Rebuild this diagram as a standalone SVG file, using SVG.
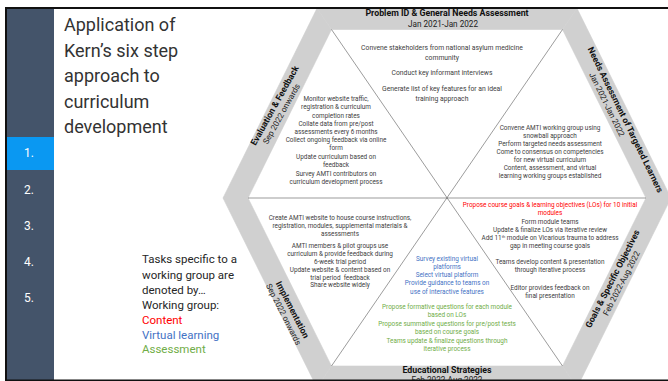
<svg xmlns="http://www.w3.org/2000/svg" width="668" height="381" viewBox="0 0 668 381">
<style>
.band{fill:#D0D0D0;stroke:#D0D0D0;stroke-width:0.6}
.diag{stroke:#595959;stroke-width:0.6;fill:none}
.t{font-family:Roboto,"Liberation Sans",sans-serif;font-size:6.4px;fill:#404040;text-anchor:middle}
.tt{font-size:6.8px}
.lb{font-family:Roboto,"Liberation Sans",sans-serif;font-weight:bold;font-size:8.8px;fill:#111;text-anchor:middle}
.dt{font-family:Roboto,"Liberation Sans",sans-serif;font-size:8.2px;fill:#222;text-anchor:middle}
.side{font-family:Roboto,"Liberation Sans",sans-serif;font-size:12px;fill:#fff}
.title{font-family:Roboto,"Liberation Sans",sans-serif;font-size:18px;fill:#333}
.leg{font-family:Roboto,"Liberation Sans",sans-serif;font-size:11.5px;fill:#262626}
.r{fill:#FF0000}.b{fill:#4472C4}.g{fill:#70AD47}
</style>
<rect width="668" height="381" fill="#fff"/>
<g id="sidebar">
<rect x="7" y="9" width="47" height="371" fill="#44546A"/>
<rect x="7" y="137" width="47" height="33" fill="#0A98F2"/>
<text class="side" x="24" y="157">1.</text>
<text class="side" x="24" y="194">2.</text>
<text class="side" x="24" y="230">3.</text>
<text class="side" x="24" y="266">4.</text>
<text class="side" x="24" y="302">5.</text>
</g>
<g id="title">
<text class="title" x="64" y="31">Application of</text>
<text class="title" x="64" y="56.5">Kern’s six step</text>
<text class="title" x="64" y="82">approach to</text>
<text class="title" x="64" y="107.5">curriculum</text>
<text class="title" x="64" y="133">development</text>
</g>
<g id="legend">
<text class="leg" x="142" y="263">Tasks specific to a</text>
<text class="leg" x="142" y="279">working group are</text>
<text class="leg" x="142" y="294">denoted by…</text>
<text class="leg" x="142" y="309">Working group:</text>
<text class="leg r" x="142" y="324">Content</text>
<text class="leg b" x="142" y="339">Virtual learning</text>
<text class="leg g" x="142" y="353">Assessment</text>
</g>

<g id="step1-problem-id">
<polygon class="band" points="317,8.3 577,8.3 562.5,29.5 331.5,29.5"/>
<text class="lb" x="447" y="15.8">Problem ID &amp; General Needs Assessment</text>
<text class="dt" x="443" y="26.8">Jan 2021-Jan 2022</text>
<text class="t tt" x="442" y="49.5">Convene stakeholders from national asylum medicine</text>
<text class="t tt" x="442" y="59.5">community</text>
<text class="t tt" x="442" y="74.5">Conduct key informant interviews</text>
<text class="t tt" x="442" y="90.5">Generate list of key features for an ideal</text>
<text class="t tt" x="442" y="100.5">training approach</text>
</g>

<g id="step2-targeted-needs">
<polygon class="band" points="577,8.3 671,198 646,198 562.5,29.5"/>
<g transform="translate(621,122) rotate(64)">
<text class="lb" x="0" y="-2">Needs Assessment of Targeted Learners</text>
<text class="dt" x="-22" y="7.8">Jan 2021-Jan 2022</text>
</g>
<text class="t" x="550" y="130.3">Convene AMTI working group using</text>
<text class="t" x="550" y="138.3">snowball approach</text>
<text class="t" x="550" y="146.3">Perform targeted needs assessment</text>
<text class="t" x="550" y="154.3">Come to consensus on competencies</text>
<text class="t" x="550" y="162.3">for new virtual curriculum</text>
<text class="t" x="550" y="170.3">Content, assessment, and virtual</text>
<text class="t" x="550" y="178.3">learning working groups established</text>
</g>

<g id="step3-goals">
<polygon class="band" points="671,198 577,387.7 562.5,366 646,198"/>
<g transform="translate(617,281) rotate(-63)">
<text class="lb" x="0" y="-2">Goals &amp; Specific Objectives</text>
<text class="dt" x="0" y="7.8">Feb 2022-Aug 2022</text>
</g>
<text class="t r" x="550" y="207.3">Propose course goals &amp; learning objectives (LOs) for 10 initial</text>
<text class="t r" x="550" y="215.3">modules</text>
<text class="t" x="550" y="224.3">Form module teams</text>
<text class="t" x="550" y="232.3">Update &amp; finalize LOs via iterative review</text>
<text class="t" x="550" y="240.3">Add 11<tspan font-size="4" baseline-shift="super">th</tspan> module on Vicarious trauma to address</text>
<text class="t" x="550" y="248.3">gap in meeting course goals</text>
<text class="t" x="550" y="264.3">Teams develop content &amp; presentation</text>
<text class="t" x="550" y="272.3">through iterative process</text>
<text class="t" x="550" y="290.3">Editor provides feedback on</text>
<text class="t" x="550" y="298.3">final presentation</text>
</g>

<g id="step4-educational-strategies">
<polygon class="band" points="577,387.7 317,387.7 331.5,366 562.5,366"/>
<text class="lb" x="447" y="372.5">Educational Strategies</text>
<text class="dt" x="447" y="382.5">Feb 2022-Aug 2022</text>
<text class="t b" x="447" y="261.3">Survey existing virtual</text>
<text class="t b" x="447" y="269.3">platforms</text>
<text class="t b" x="447" y="277.3">Select virtual platform</text>
<text class="t b" x="447" y="285.3">Provide guidance to teams on</text>
<text class="t b" x="447" y="293.8">use of interactive features</text>
<text class="t g" x="447" y="309.3">Propose formative questions for each module</text>
<text class="t g" x="447" y="317.3">based on LOs</text>
<text class="t g" x="447" y="326.3">Propose summative questions for pre/post tests</text>
<text class="t g" x="447" y="334.3">based on course goals</text>
<text class="t g" x="447" y="342.8">Teams update &amp; finalize questions through</text>
<text class="t g" x="447" y="351.3">iterative process</text>
</g>

<g id="step5-implementation">
<polygon class="band" points="317,387.7 223,198 248,198 331.5,366"/>
<g transform="translate(288,312) rotate(63)">
<text class="lb" x="0" y="-2">Implementation</text>
<text class="dt" x="0" y="7.8">Sep 2022 onwards</text>
</g>
<text class="t" x="340" y="220.3">Create AMTI website to house course instructions,</text>
<text class="t" x="340" y="228.3">registration, modules, supplemental materials &amp;</text>
<text class="t" x="340" y="236.3">assessments</text>
<text class="t" x="340" y="248.3">AMTI members &amp; pilot groups use</text>
<text class="t" x="340" y="256.3">curriculum &amp; provide feedback during</text>
<text class="t" x="340" y="264.3">6-week trial period</text>
<text class="t" x="340" y="272.3">Update website &amp; content based on</text>
<text class="t" x="340" y="279.8" style="white-space:pre">trial period  feedback</text>
<text class="t" x="340" y="287.3">Share website widely</text>
</g>

<g id="step6-evaluation">
<polygon class="band" points="223,198 317,8.3 331.5,29.5 248,198"/>
<g transform="translate(279,108) rotate(-61)">
<text class="lb" x="0" y="-2">Evaluation &amp; Feedback</text>
<text class="dt" x="-4" y="7.8">Sep 2022 onwards</text>
</g>
<text class="t" x="336" y="101.3">Monitor website traffic,</text>
<text class="t" x="336" y="109.3">registration &amp; curriculum</text>
<text class="t" x="336" y="118.3">completion rates</text>
<text class="t" x="336" y="126.3">Collate data from pre/post</text>
<text class="t" x="336" y="134.3">assessments every 6 months</text>
<text class="t" x="336" y="142.3">Collect ongoing feedback via online</text>
<text class="t" x="336" y="150.3">form</text>
<text class="t" x="336" y="159.3">Update curriculum based on</text>
<text class="t" x="336" y="167.3">feedback</text>
<text class="t" x="336" y="176.3">Survey AMTI contributors on</text>
<text class="t" x="336" y="184.3">curriculum development process</text>
</g>

<g id="connectors">
<line class="diag" x1="331.5" y1="29.5" x2="562.5" y2="366"/>
<line class="diag" x1="562.5" y1="29.5" x2="331.5" y2="366"/>
<line class="diag" x1="248" y1="198" x2="646" y2="198"/>
</g>

<g id="frame" fill="none" stroke="#111" stroke-width="2">
<line x1="5" y1="8" x2="668" y2="8"/>
<line x1="6" y1="7" x2="6" y2="381"/>
<line x1="5" y1="380.5" x2="668" y2="380.5"/>
</g>
</svg>
